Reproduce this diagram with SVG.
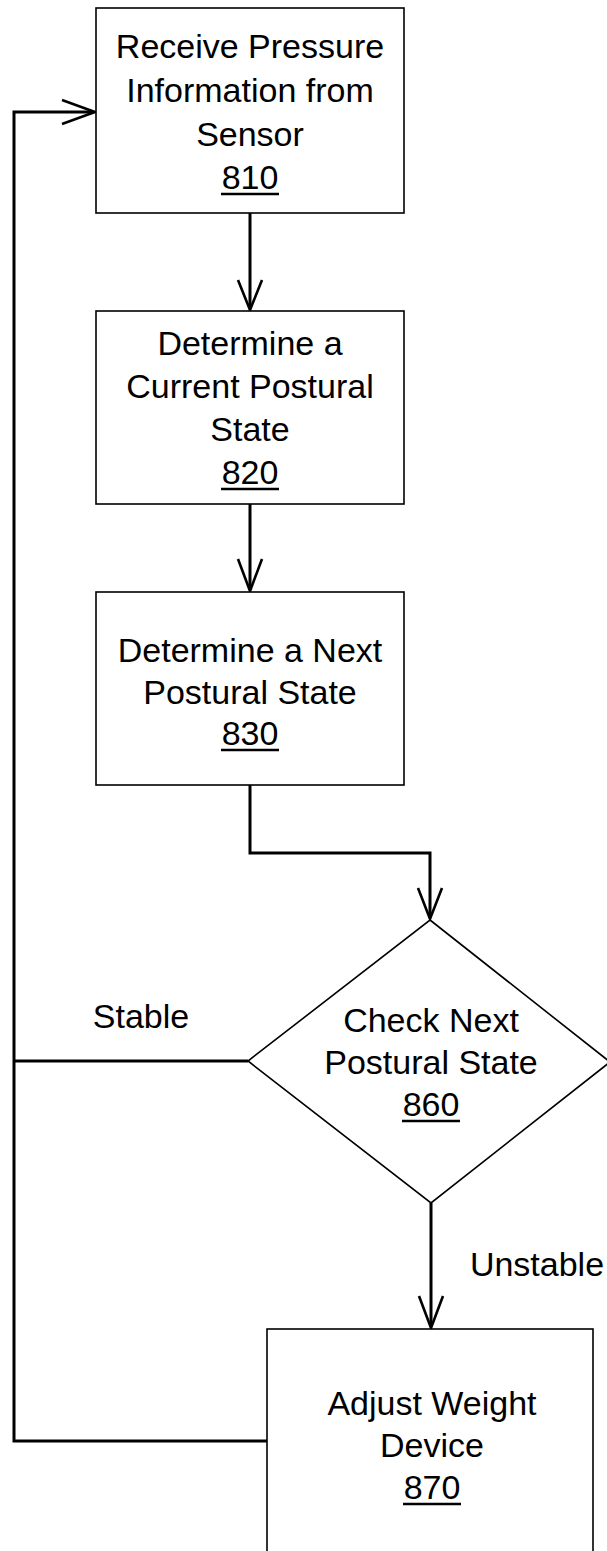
<svg xmlns="http://www.w3.org/2000/svg" width="607" height="1551" viewBox="0 0 607 1551">
<style>
.box{fill:#fff;stroke:#000;stroke-width:1.6}
.t{font-family:"Liberation Sans",Arial,sans-serif;font-size:34px;fill:#000;text-anchor:middle}
.ul{stroke:#000;stroke-width:2.4}
.c{fill:none;stroke:#000;stroke-width:3}
.ah{fill:none;stroke:#000;stroke-width:2.6;stroke-linejoin:miter}
</style>
<rect width="607" height="1551" fill="#fff"/>
<g id="connectors">
<path class="c" d="M250 213V309"/>
<path class="ah" d="M238 280L250 310L262 280"/>
<path class="c" d="M250 504V590"/>
<path class="ah" d="M238 559L250 591L262 559"/>
<path class="c" d="M250 785V853H430V918"/>
<path class="ah" d="M418 888L430 919L442 888"/>
<path class="c" d="M431 1203V1327"/>
<path class="ah" d="M419 1296L431 1328L443 1296"/>
<path class="c" d="M267 1441H14V112H94"/>
<path class="ah" d="M62 100L95 112L62 124"/>
<path class="c" d="M248 1061H14"/>
<text class="t" x="141" y="1028">Stable</text>
<text class="t" x="537" y="1276">Unstable</text>
</g>
<g id="n810">
<rect class="box" x="96" y="8" width="308" height="205"/>
<text class="t" x="250" y="58">Receive Pressure</text>
<text class="t" x="250" y="102">Information from</text>
<text class="t" x="250" y="146">Sensor</text>
<text class="t" x="250" y="189">810</text>
<line class="ul" x1="221" y1="194" x2="279" y2="194"/>
</g>
<g id="n820">
<rect class="box" x="96" y="311" width="308" height="193"/>
<text class="t" x="250" y="355">Determine a</text>
<text class="t" x="250" y="398">Current Postural</text>
<text class="t" x="250" y="441">State</text>
<text class="t" x="250" y="484">820</text>
<line class="ul" x1="221" y1="489" x2="279" y2="489"/>
</g>
<g id="n830">
<rect class="box" x="96" y="592" width="308" height="193"/>
<text class="t" x="250" y="662">Determine a Next</text>
<text class="t" x="250" y="704">Postural State</text>
<text class="t" x="250" y="745">830</text>
<line class="ul" x1="221" y1="750" x2="279" y2="750"/>
</g>
<g id="n860">
<path class="box" d="M430 920L610 1062L431 1203L248 1061Z"/>
<text class="t" x="431" y="1032">Check Next</text>
<text class="t" x="431" y="1074">Postural State</text>
<text class="t" x="431" y="1116">860</text>
<line class="ul" x1="402" y1="1121" x2="460" y2="1121"/>
</g>
<g id="n870">
<rect class="box" x="267" y="1329" width="326" height="240"/>
<text class="t" x="432" y="1415">Adjust Weight</text>
<text class="t" x="432" y="1457">Device</text>
<text class="t" x="432" y="1499">870</text>
<line class="ul" x1="403" y1="1504" x2="461" y2="1504"/>
</g>
</svg>
